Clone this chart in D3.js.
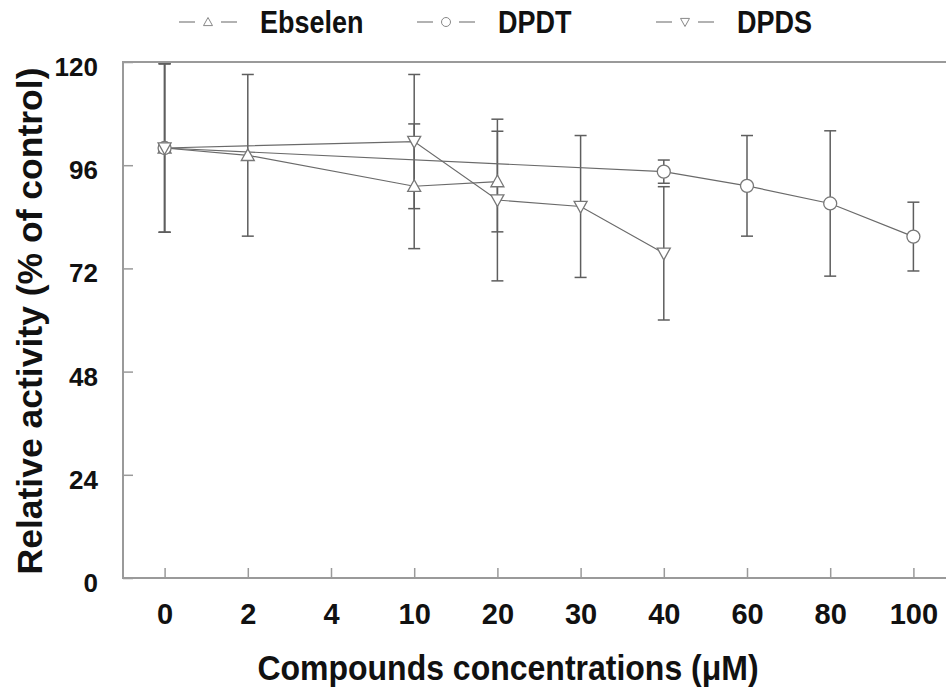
<!DOCTYPE html>
<html>
<head>
<meta charset="utf-8">
<script src="https://cdn.jsdelivr.net/npm/d3@7"></script>
<style>
  body { margin: 0; background: #fff; }
  text { font-family: "Liberation Sans", Arial, sans-serif; font-weight: bold; fill: #111; }
</style>
</head>
<body>
<div class="layout"></div>
<script>
// categories on the x axis (equally spaced, not numeric)
var concLabels = ["0", "2", "4", "10", "20", "30", "40", "60", "80", "100"];
var yTicks = [0, 24, 48, 72, 96, 120];

// Ebselen
var ebsConc = ["0", "2", "10", "20"];
var ebsMean = [100, 98.3, 91.1, 92.2];
var ebsSd   = [19.6, 18.8, 14.5, 11.7];

// DPDT
var dpdtConc = ["0", "40", "60", "80", "100"];
var dpdtMean = [100, 94.5, 91.2, 87.1, 79.4];
var dpdtSd   = [19.6, 2.7, 11.7, 16.9, 8.0];

// DPDS
var dpdsConc = ["0", "10", "20", "30", "40"];
var dpdsMean = [100, 101.5, 87.9, 86.4, 75.5];
var dpdsSd   = [19.6, 15.6, 18.8, 16.5, 15.5];

var width = 946, height = 693;
var margin = {top: 62, left: 123, bottom: 115};
var plotW = 832, plotH = height - margin.top - margin.bottom;

var x = d3.scalePoint()
    .domain(concLabels)
    .range([0, plotW])
    .padding(0.5);

var y = d3.scaleLinear()
    .domain([0, 120])
    .range([plotH, 0]);

var svg = d3.select(".layout").append("svg")
    .attr("width", width)
    .attr("height", height);

var g = svg.append("g")
    .attr("transform", "translate(" + margin.left + "," + margin.top + ")");

// frame
g.append("rect")
    .attr("x", 0).attr("y", 0)
    .attr("width", plotW).attr("height", plotH)
    .attr("fill", "none")
    .attr("stroke", "#9a9a9a")
    .attr("stroke-width", 2);

// ticks, pointing inward
var xAxis = d3.axisBottom(x).tickSize(-10).tickPadding(25);
var yAxis = d3.axisLeft(y).tickValues(yTicks).tickSize(-10).tickPadding(25);

var gx = g.append("g")
    .attr("class", "x axis")
    .attr("transform", "translate(0," + plotH + ")")
    .call(xAxis);
var gy = g.append("g")
    .attr("class", "y axis")
    .call(yAxis);

[gx, gy].forEach(function(a) {
  a.select(".domain").remove();
  a.selectAll(".tick line").attr("stroke", "#9a9a9a").attr("stroke-width", 1.5);
  a.selectAll(".tick text").attr("fill", "#111");
});
gx.selectAll(".tick text").style("font-size", "29px").attr("dy", "0.71em");
gy.selectAll(".tick text").style("font-size", "26px").attr("dy", "0.52em");

// axis titles (the source image is a bit stretched vertically)
svg.append("text")
    .attr("transform", "translate(508,680) scale(1,1.08)")
    .attr("text-anchor", "middle")
    .style("font-size", "32px")
    .text("Compounds concentrations (\u03bcM)");

svg.append("text")
    .attr("transform", "translate(42,321) rotate(-90)")
    .attr("text-anchor", "middle")
    .style("font-size", "35.5px")
    .text("Relative activity (% of control)");

var series = [
  {name: "Ebselen", conc: ebsConc, mean: ebsMean, sd: ebsSd, symbol: "up"},
  {name: "DPDT", conc: dpdtConc, mean: dpdtMean, sd: dpdtSd, symbol: "circle"},
  {name: "DPDS", conc: dpdsConc, mean: dpdsMean, sd: dpdsSd, symbol: "down"}
];

function rows(s) {
  return s.conc.map(function(c, i) { return {c: c, m: s.mean[i], sd: s.sd[i]}; });
}

function marker(sel, type, size) {
  var h = size / 2;
  if (type === "circle") {
    sel.append("circle").attr("r", h);
  } else {
    var pts = type === "up"
      ? [[0, -h], [h, h * 0.8], [-h, h * 0.8]]
      : [[0, h], [h, -h * 0.8], [-h, -h * 0.8]];
    sel.append("path").attr("d", "M" + pts.join("L") + "Z");
  }
  sel.selectAll("circle, path")
      .attr("fill", "#fff")
      .attr("stroke", "#777")
      .attr("stroke-width", 1.3);
}

var line = d3.line()
    .x(function(d) { return x(d.c); })
    .y(function(d) { return y(d.m); });

// error bars first
series.forEach(function(s) {
  var eb = g.append("g").attr("class", "err");
  rows(s).forEach(function(d) {
    var cx = x(d.c);
    eb.append("line")
        .attr("x1", cx).attr("x2", cx)
        .attr("y1", y(d.m + d.sd)).attr("y2", y(d.m - d.sd));
    eb.append("line")
        .attr("x1", cx - 6).attr("x2", cx + 6)
        .attr("y1", y(d.m + d.sd)).attr("y2", y(d.m + d.sd));
    eb.append("line")
        .attr("x1", cx - 6).attr("x2", cx + 6)
        .attr("y1", y(d.m - d.sd)).attr("y2", y(d.m - d.sd));
  });
  eb.selectAll("line").attr("stroke", "#5e5e5e").attr("stroke-width", 1.5);
});

// connecting lines
series.forEach(function(s) {
  g.append("path")
      .datum(rows(s))
      .attr("d", line)
      .attr("fill", "none")
      .attr("stroke", "#6a6a6a")
      .attr("stroke-width", 1.2);
});

// markers
series.forEach(function(s) {
  rows(s).forEach(function(d) {
    var m = g.append("g").attr("transform", "translate(" + x(d.c) + "," + y(d.m) + ")");
    marker(m, s.symbol, 13);
  });
});

// legend
var legX = [179, 417, 656];
var legend = svg.append("g").attr("class", "legend");
series.forEach(function(s, i) {
  var lg = legend.append("g").attr("transform", "translate(" + legX[i] + ",22)");
  lg.append("line").attr("x1", 0).attr("x2", 16).attr("y1", 0).attr("y2", 0)
      .attr("stroke", "#888").attr("stroke-width", 1.3);
  lg.append("line").attr("x1", 42).attr("x2", 58).attr("y1", 0).attr("y2", 0)
      .attr("stroke", "#888").attr("stroke-width", 1.3);
  var mk = lg.append("g").attr("transform", "translate(29,0)");
  marker(mk, s.symbol, 9);
  mk.selectAll("circle, path").attr("stroke", "#888").attr("stroke-width", 1);
  lg.append("text")
      .attr("transform", "translate(81,0) scale(1,1.15)")
      .attr("dy", "0.36em")
      .style("font-size", "27px")
      .text(s.name);
});
</script>
</body>
</html>
